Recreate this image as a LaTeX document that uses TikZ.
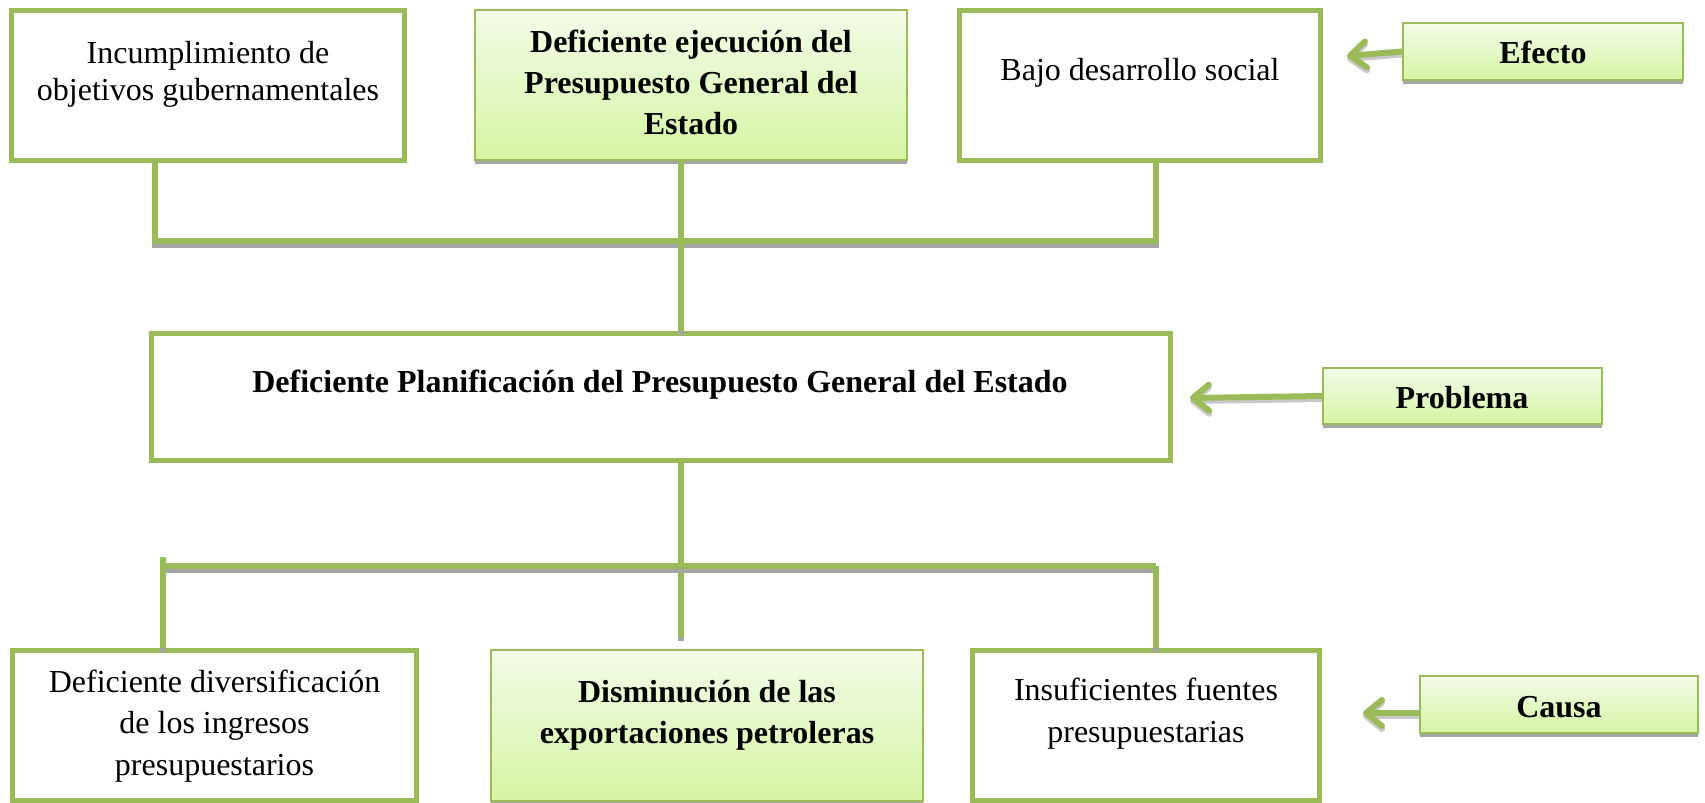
\documentclass[tikz,border=0pt]{standalone}
\usepackage{fontspec}
\setmainfont{Liberation Serif}
\usetikzlibrary{fit,shadows,arrows.meta}
\definecolor{lgreen}{RGB}{155,187,89}
\definecolor{gtop}{RGB}{243,252,233}
\definecolor{gbot}{RGB}{213,245,163}
\definecolor{shgray}{RGB}{165,165,165}
\newcommand{\mlines}[1]{\begin{tabular}[t]{@{}c@{}}#1\end{tabular}}
\begin{document}
\begin{tikzpicture}[x=0.5pt,y=-0.5pt,
  wbox/.style={draw=lgreen, line width=2.5pt, fill=white, inner sep=0pt},
  gbox/.style={draw=lgreen, line width=1pt, top color=gtop, bottom color=gbot, inner sep=0pt,
     drop shadow={shadow xshift=0pt, shadow yshift=-2pt, fill=shgray, opacity=1}},
  conn/.style={draw=lgreen, line width=3pt,
     preaction={draw=shgray, line width=3pt, transform canvas={yshift=-2pt}}},
  arr/.style={draw=lgreen, line width=3pt, -{Straight Barb[length=8pt,width=13pt,round]},
     preaction={draw=shgray!60, line width=3pt, transform canvas={yshift=-1.5pt}}},
  txt/.style={inner sep=0pt, anchor=base, font=\fontsize{16}{#1}\selectfont},
  txt/.default={20.5},
  btxt/.style={txt=#1, font=\fontsize{16}{#1}\selectfont\bfseries},
  btxt/.default={20.5}]
\clip (0,0) rectangle (1705,803);
\fill[white] (0,0) rectangle (1705,803);

% boxes
\node[wbox, fit={(11.5,10.5)(404.5,160.5)}] (A) {};
\node[gbox, fit={(475,10)(907,160)}] (B) {};
\node[wbox, fit={(959.5,10.5)(1320.5,160.5)}] (C) {};
\node[gbox, fit={(1403,23)(1683,80)}] (Ef) {};
\node[wbox, fit={(151.5,333.5)(1170.5,460.5)}] (M) {};
\node[gbox, fit={(1323,368)(1602,424)}] (Pr) {};
\node[wbox, fit={(12.5,650.5)(416.5,800.5)}] (D) {};
\node[gbox, fit={(491,650)(923,801)}] (E) {};
\node[wbox, fit={(972.5,650.5)(1319.5,800.5)}] (F) {};
\node[gbox, fit={(1420,676)(1698,733)}] (Ca) {};

% texts
\node[txt=18.5] (tA) at (208,63) {\mlines{Incumplimiento de\\objetivos gubernamentales}};
\node[btxt=20.5] (tB) at (691,53) {\mlines{Deficiente ejecución del\\Presupuesto General del\\Estado}};
\node[txt] (tC) at (1140,80) {Bajo desarrollo social};
\node[btxt] (tEf) at (1543,63) {Efecto};
\node[btxt] (tM) at (660,392) {Deficiente Planificación del Presupuesto General del Estado};
\node[btxt] (tPr) at (1462,408) {Problema};
\node[txt=20.75] (tD) at (214.5,692) {\mlines{Deficiente diversificación\\de los ingresos\\presupuestarios}};
\node[btxt=20.5] (tE) at (707,702) {\mlines{Disminución de las\\exportaciones petroleras}};
\node[txt=21] (tF) at (1146,700) {\mlines{Insuficientes fuentes\\presupuestarias}};
\node[btxt] (tCa) at (1559,717) {Causa};

% connector coordinates
\coordinate (jA) at (155,241);
\coordinate (jB) at (681,241);
\coordinate (jC) at (1156,241);
\coordinate (kL) at (163,566);
\coordinate (kLtop) at (163,557);
\coordinate (kR) at (1156,566);
\coordinate (kC) at (681,637);

% upper tree
\draw[conn] (A.south -| jA) -- (jA) -- (jC) -- (C.south -| jC);
\draw[conn] (B.south -| jB) -- (M.north -| jB);
% lower tree
\draw[conn] (M.south -| kC) -- (kC);
\draw[conn] (kL) -- (kR);
\draw[conn] (kLtop) -- (D.north -| kLtop);
\draw[conn] (kR) -- (F.north -| kR);

% arrows
\coordinate (tipE) at (1347,56);
\coordinate (tipP) at (1190,398);
\coordinate (tipC) at (1363,713);
\draw[arr] (Ef.west) -- (tipE);
\draw[arr] (Pr.west) -- (tipP);
\draw[arr] (tipC -| Ca.west) -- (tipC);
\end{tikzpicture}
\end{document}
